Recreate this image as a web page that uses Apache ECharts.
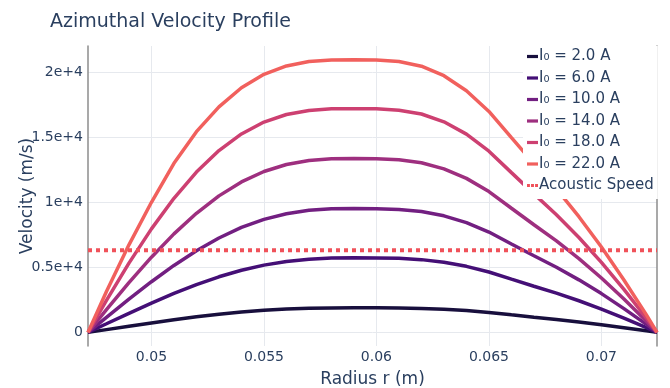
<!DOCTYPE html>
<html>
<head>
<meta charset="utf-8">
<script src="https://cdn.jsdelivr.net/npm/echarts@6/dist/echarts.min.js"></script>
<style>
  html, body { margin: 0; padding: 0; background: #fff; }
  #chart { width: 670px; height: 388px; }
</style>
</head>
<body>
<div id="chart"></div>
<script>
// Radial sample positions (m)
const radius = [0.04718, 0.048, 0.049, 0.050, 0.051, 0.052, 0.053, 0.054, 0.055, 0.056,
  0.057, 0.058, 0.059, 0.060, 0.061, 0.062, 0.063, 0.064, 0.065, 0.066, 0.067, 0.068,
  0.069, 0.070, 0.071, 0.072, 0.07247];

// Azimuthal velocity (m/s) for each discharge current
const v2A  = [0, 212, 471, 726, 969, 1194, 1393, 1561, 1695, 1792, 1854, 1883, 1890,
  1888, 1877, 1845, 1778, 1675, 1531, 1349, 1170, 994, 801, 592, 363, 121, 0];
const v6A  = [0, 660, 1466, 2251, 2994, 3675, 4275, 4778, 5172, 5456, 5632, 5715, 5733,
  5727, 5693, 5595, 5395, 5079, 4644, 4093, 3549, 3016, 2431, 1794, 1101, 367, 0];
const v10A = [0, 1158, 2553, 3896, 5150, 6282, 7262, 8070, 8692, 9126, 9386, 9504, 9527,
  9517, 9460, 9298, 8965, 8441, 7717, 6802, 5897, 5011, 4039, 2982, 1829, 610, 0];
const v14A = [0, 1751, 3827, 5784, 7575, 9161, 10499, 11573, 12373, 12911, 13219, 13347, 13370,
  13357, 13276, 13049, 12581, 11846, 10830, 9546, 8276, 7033, 5669, 4185, 2567, 856, 0];
const v18A = [0, 2468, 5328, 7963, 10312, 12331, 13983, 15264, 16177, 16761, 17074, 17193, 17210,
  17193, 17090, 16797, 16195, 15248, 13940, 12288, 10653, 9052, 7297, 5387, 3304, 1101, 0];
const v22A = [0, 3147, 6735, 10007, 13008, 15441, 17350, 18819, 19847, 20497, 20833, 20959, 20980,
  20959, 20833, 20476, 19742, 18588, 16994, 14980, 12987, 11035, 8896, 6567, 4028, 1343, 0];

const currentLabels = ['I\u2080 = 2.0 A', 'I\u2080 = 6.0 A', 'I\u2080 = 10.0 A',
  'I\u2080 = 14.0 A', 'I\u2080 = 18.0 A', 'I\u2080 = 22.0 A'];
const velocitySets = [v2A, v6A, v10A, v14A, v18A, v22A];
const lineColors = ['#180f3d', '#440f76', '#721f81', '#9e2f7f', '#cd4071', '#f1605d'];

// Sound speed reference level (m/s)
const acousticName = 'Acoustic Speed';
const acousticSpeed = 6323;

const rMin = radius[0];
const rMax = radius[radius.length - 1];
const vMin = -1049;
const vMax = 22029;

const FONT = 'DejaVu Sans';
const INK = '#2a3f5f';
const ACOUSTIC_COLOR = '#f0525a';

// Short bar / dotted bar used as legend keys
const BAR_ICON = 'path://M0,0h12v3.5h-12z';
const DOT_ICON = 'path://M0,0h3.2v3.5h-3.2z M4.4,0h3.2v3.5h-3.2z M8.8,0h3.2v3.5h-3.2z';

const series = velocitySets.map((vals, i) => ({
  name: currentLabels[i],
  type: 'line',
  symbol: 'none',
  smooth: false,
  color: lineColors[i],
  lineStyle: { width: 3.5, color: lineColors[i] },
  data: radius.map((r, k) => [r, vals[k]]),
  z: 2
}));

series.push({
  name: acousticName,
  type: 'line',
  symbol: 'none',
  color: ACOUSTIC_COLOR,
  lineStyle: { width: 4, color: ACOUSTIC_COLOR, type: [4, 4], cap: 'butt' },
  data: [[rMin, acousticSpeed], [rMax, acousticSpeed]],
  z: 3
});

const legendData = currentLabels.map(n => ({ name: n, icon: BAR_ICON }))
  .concat([{ name: acousticName, icon: DOT_ICON }]);

const chart = echarts.init(document.getElementById('chart'), null, { renderer: 'canvas' });
chart.setOption({
  animation: false,
  backgroundColor: '#ffffff',
  textStyle: { fontFamily: FONT, color: INK },
  title: {
    text: 'Azimuthal Velocity Profile',
    left: 45, top: 8,
    textStyle: { fontFamily: FONT, fontSize: 19, fontWeight: 'normal', color: INK }
  },
  grid: { left: 88, right: 13, top: 46, bottom: 42, containLabel: false, outerBoundsMode: 'none' },
  legend: {
    orient: 'vertical',
    left: 523, top: 46,
    padding: [3, 4, 6, 4],
    itemWidth: 11, itemHeight: 3.5, itemGap: 6.5,
    backgroundColor: '#ffffff',
    textStyle: { fontFamily: FONT, fontSize: 15, color: INK, padding: [0, 0, 0, -4] },
    data: legendData
  },
  xAxis: {
    type: 'value',
    min: rMin, max: rMax,
    name: 'Radius r (m)',
    nameLocation: 'middle', nameGap: 25, nameMoveOverlap: false,
    nameTextStyle: { fontFamily: FONT, fontSize: 17, color: INK },
    axisLine: { show: false },
    axisTick: { show: false },
    axisLabel: { fontFamily: FONT, fontSize: 14, color: INK, margin: 4,
      showMinLabel: false, showMaxLabel: false },
    splitLine: { show: true, showMinLine: false, showMaxLine: false,
      lineStyle: { color: '#e6e9ee', width: 1 } }
  },
  yAxis: [{
    type: 'value',
    min: vMin, max: vMax,
    name: 'Velocity (m/s)',
    nameLocation: 'middle', nameGap: 52, nameMoveOverlap: false,
    nameTextStyle: { fontFamily: FONT, fontSize: 17, color: INK },
    axisLine: { show: true, lineStyle: { color: '#8c8c8c', width: 1.5 } },
    axisTick: { show: false },
    axisLabel: {
      fontFamily: FONT, fontSize: 14, color: INK, margin: 5,
      showMinLabel: false, showMaxLabel: false,
      formatter: v => (v === 0 ? '0' : (v / 10000) + 'e+4')
    },
    splitLine: { show: true, showMinLine: false, showMaxLine: false,
      lineStyle: { color: '#e6e9ee', width: 1 } }
  }, {
    type: 'value',
    position: 'right',
    min: vMin, max: vMax,
    axisLine: { show: true, lineStyle: { color: '#8c8c8c', width: 1.5 } },
    axisTick: { show: false },
    axisLabel: { show: false },
    splitLine: { show: false }
  }],
  series: series
});
</script>
</body>
</html>
